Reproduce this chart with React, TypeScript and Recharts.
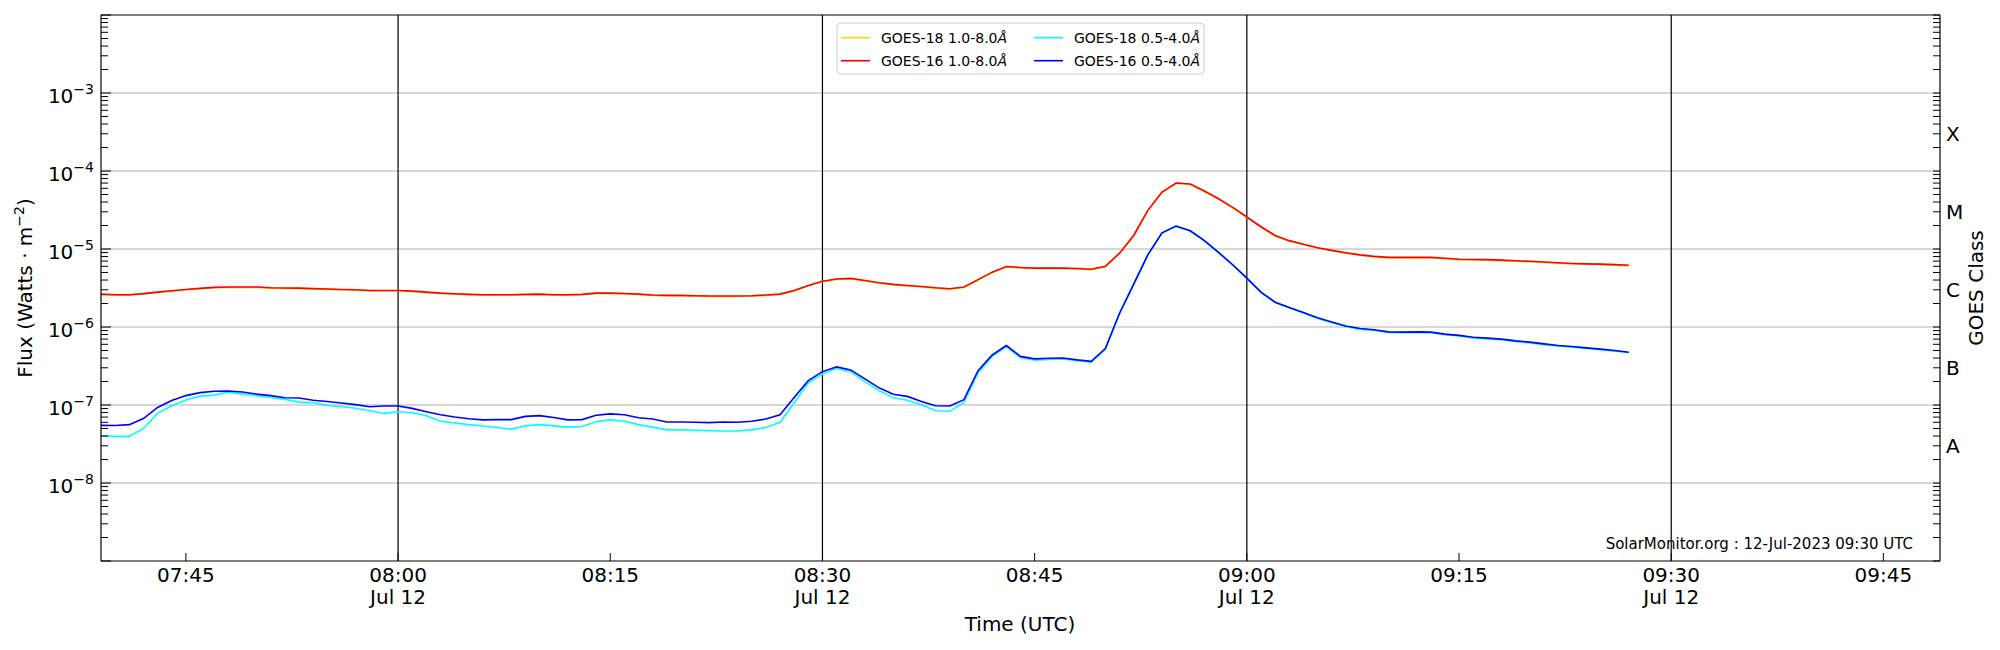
// GOES X-ray flux, 12 Jul 2023 07:39-09:27 UTC (SolarMonitor style)
import React from 'react';
import { LineChart, Line, XAxis, YAxis, ReferenceLine } from 'recharts';

// one sample per minute, first sample at 07:39
const START_MIN = 7 * 60 + 39;

const g18Long = [
  2.6e-6, 2.56e-6, 2.56e-6, 2.65e-6, 2.77e-6, 2.88e-6, 3.0e-6, 3.1e-6, 3.19e-6, 3.22e-6,
  3.22e-6, 3.22e-6, 3.15e-6, 3.13e-6, 3.12e-6, 3.07e-6, 3.04e-6, 3.0e-6, 2.97e-6, 2.91e-6,
  2.91e-6, 2.91e-6, 2.85e-6, 2.77e-6, 2.69e-6, 2.64e-6, 2.59e-6, 2.56e-6, 2.56e-6, 2.56e-6,
  2.59e-6, 2.61e-6, 2.56e-6, 2.56e-6, 2.59e-6, 2.69e-6, 2.69e-6, 2.66e-6, 2.61e-6, 2.54e-6,
  2.51e-6, 2.51e-6, 2.49e-6, 2.47e-6, 2.47e-6, 2.47e-6, 2.49e-6, 2.54e-6, 2.61e-6, 2.9e-6,
  3.37e-6, 3.8e-6, 4.07e-6, 4.15e-6, 3.9e-6, 3.66e-6, 3.48e-6, 3.37e-6, 3.26e-6, 3.14e-6,
  3.06e-6, 3.21e-6, 4.0e-6, 4.99e-6, 5.9e-6, 5.73e-6, 5.62e-6, 5.62e-6, 5.62e-6, 5.55e-6,
  5.44e-6, 5.93e-6, 8.75e-6, 1.47e-5, 3.1e-5, 5.3e-5, 6.95e-5, 6.72e-5, 5.47e-5, 4.36e-5,
  3.38e-5, 2.54e-5, 1.91e-5, 1.47e-5, 1.27e-5, 1.14e-5, 1.03e-5, 9.5e-6, 8.86e-6, 8.3e-6,
  7.95e-6, 7.7e-6, 7.7e-6, 7.75e-6, 7.7e-6, 7.5e-6, 7.3e-6, 7.26e-6, 7.2e-6, 7.1e-6,
  6.98e-6, 6.87e-6, 6.72e-6, 6.57e-6, 6.45e-6, 6.37e-6, 6.32e-6, 6.22e-6, 6.13e-6,
];

const g16Long = [
  2.64e-6, 2.59e-6, 2.59e-6, 2.68e-6, 2.8e-6, 2.91e-6, 3.03e-6, 3.13e-6, 3.22e-6, 3.25e-6,
  3.25e-6, 3.25e-6, 3.18e-6, 3.16e-6, 3.15e-6, 3.1e-6, 3.07e-6, 3.03e-6, 3.0e-6, 2.94e-6,
  2.94e-6, 2.94e-6, 2.88e-6, 2.8e-6, 2.72e-6, 2.67e-6, 2.62e-6, 2.59e-6, 2.59e-6, 2.59e-6,
  2.62e-6, 2.64e-6, 2.59e-6, 2.59e-6, 2.62e-6, 2.72e-6, 2.72e-6, 2.69e-6, 2.64e-6, 2.57e-6,
  2.54e-6, 2.54e-6, 2.52e-6, 2.5e-6, 2.5e-6, 2.5e-6, 2.52e-6, 2.57e-6, 2.64e-6, 2.94e-6,
  3.41e-6, 3.85e-6, 4.12e-6, 4.2e-6, 3.95e-6, 3.7e-6, 3.52e-6, 3.41e-6, 3.3e-6, 3.18e-6,
  3.1e-6, 3.25e-6, 4.05e-6, 5.05e-6, 5.97e-6, 5.8e-6, 5.69e-6, 5.69e-6, 5.69e-6, 5.62e-6,
  5.5e-6, 6.0e-6, 8.85e-6, 1.49e-5, 3.13e-5, 5.37e-5, 7.02e-5, 6.8e-5, 5.53e-5, 4.41e-5,
  3.42e-5, 2.57e-5, 1.93e-5, 1.49e-5, 1.28e-5, 1.15e-5, 1.04e-5, 9.6e-6, 8.96e-6, 8.4e-6,
  8.04e-6, 7.8e-6, 7.8e-6, 7.85e-6, 7.8e-6, 7.6e-6, 7.4e-6, 7.35e-6, 7.3e-6, 7.2e-6,
  7.06e-6, 6.95e-6, 6.8e-6, 6.65e-6, 6.53e-6, 6.45e-6, 6.4e-6, 6.3e-6, 6.2e-6,
];

const g18Short = [
  4.04e-8, 3.96e-8, 3.96e-8, 5.0e-8, 7.8e-8, 9.8e-8, 1.16e-7, 1.3e-7, 1.34e-7, 1.46e-7,
  1.38e-7, 1.32e-7, 1.25e-7, 1.18e-7, 1.09e-7, 1.07e-7, 9.9e-8, 9.5e-8, 9.1e-8, 8.45e-8,
  7.8e-8, 8.2e-8, 7.95e-8, 7.3e-8, 6.2e-8, 5.9e-8, 5.6e-8, 5.37e-8, 5.15e-8, 4.9e-8,
  5.4e-8, 5.6e-8, 5.4e-8, 5.2e-8, 5.3e-8, 6.1e-8, 6.45e-8, 6.2e-8, 5.6e-8, 5.2e-8,
  4.8e-8, 4.8e-8, 4.75e-8, 4.7e-8, 4.65e-8, 4.65e-8, 4.8e-8, 5.15e-8, 6.0e-8, 1.07e-7,
  1.92e-7, 2.5e-7, 2.93e-7, 2.68e-7, 1.99e-7, 1.53e-7, 1.24e-7, 1.15e-7, 1.01e-7, 8.45e-8,
  8.3e-8, 1.08e-7, 2.6e-7, 4.2e-7, 5.6e-7, 4.05e-7, 3.75e-7, 3.85e-7, 3.9e-7, 3.7e-7,
  3.55e-7, 5.2e-7, 1.48e-6, 3.5e-6, 8.4e-6, 1.6e-5, 1.95e-5, 1.7e-5, 1.27e-5, 9.0e-6,
  6.25e-6, 4.2e-6, 2.78e-6, 2.06e-6, 1.76e-6, 1.51e-6, 1.29e-6, 1.14e-6, 1.01e-6, 9.4e-7,
  9.05e-7, 8.5e-7, 8.45e-7, 8.5e-7, 8.45e-7, 7.95e-7, 7.65e-7, 7.25e-7, 7.05e-7, 6.85e-7,
  6.5e-7, 6.25e-7, 5.95e-7, 5.7e-7, 5.5e-7, 5.3e-7, 5.1e-7, 4.9e-7, 4.7e-7,
];

const g16Short = [
  5.48e-8, 5.45e-8, 5.6e-8, 6.7e-8, 9.3e-8, 1.14e-7, 1.32e-7, 1.44e-7, 1.5e-7, 1.51e-7,
  1.47e-7, 1.38e-7, 1.32e-7, 1.24e-7, 1.23e-7, 1.15e-7, 1.11e-7, 1.06e-7, 1.01e-7, 9.5e-8,
  9.7e-8, 9.7e-8, 9.05e-8, 8.2e-8, 7.5e-8, 7.0e-8, 6.67e-8, 6.45e-8, 6.5e-8, 6.5e-8,
  7.15e-8, 7.3e-8, 6.9e-8, 6.45e-8, 6.5e-8, 7.4e-8, 7.7e-8, 7.5e-8, 6.85e-8, 6.6e-8,
  6.05e-8, 6.05e-8, 6.0e-8, 5.95e-8, 6.05e-8, 6.0e-8, 6.2e-8, 6.6e-8, 7.5e-8, 1.25e-7,
  2.05e-7, 2.68e-7, 3.08e-7, 2.82e-7, 2.16e-7, 1.66e-7, 1.37e-7, 1.29e-7, 1.11e-7, 9.8e-8,
  9.7e-8, 1.17e-7, 2.75e-7, 4.38e-7, 5.78e-7, 4.2e-7, 3.9e-7, 3.97e-7, 4.0e-7, 3.79e-7,
  3.63e-7, 5.3e-7, 1.5e-6, 3.55e-6, 8.43e-6, 1.61e-5, 1.97e-5, 1.71e-5, 1.28e-5, 9.04e-6,
  6.28e-6, 4.23e-6, 2.8e-6, 2.08e-6, 1.78e-6, 1.53e-6, 1.31e-6, 1.16e-6, 1.03e-6, 9.55e-7,
  9.2e-7, 8.65e-7, 8.6e-7, 8.65e-7, 8.6e-7, 8.1e-7, 7.8e-7, 7.4e-7, 7.2e-7, 7.0e-7,
  6.64e-7, 6.4e-7, 6.07e-7, 5.8e-7, 5.62e-7, 5.4e-7, 5.2e-7, 4.99e-7, 4.75e-7,
];

const timeTicks = [465, 480, 495, 510, 525, 540, 555, 570, 585];
const halfHours = [480, 510, 540, 570];
const decades = [1e-8, 1e-7, 1e-6, 1e-5, 1e-4, 1e-3];
const goesClasses = ['A', 'B', 'C', 'M', 'X'];
const classLevels = [3e-8, 3e-7, 3e-6, 3e-5, 3e-4];

const series = [
  { key: 'g18l', label: 'GOES-18 1.0-8.0', color: '#ffd700' },
  { key: 'g16l', label: 'GOES-16 1.0-8.0', color: '#ff0000' },
  { key: 'g18s', label: 'GOES-18 0.5-4.0', color: '#00ffff' },
  { key: 'g16s', label: 'GOES-16 0.5-4.0', color: '#0000ff' },
];

const data = g16Long.map((v, i) => ({
  t: START_MIN + i,
  g18l: g18Long[i],
  g16l: v,
  g18s: g18Short[i],
  g16s: g16Short[i],
}));

// log ticks k * 10^n
const logTicks: number[] = [];
for (let n = -9; n <= -3; n++) {
  for (let k = 1; k <= 9; k++) logTicks.push(k * Math.pow(10, n));
}
logTicks.push(1e-2);

const PL = 101;
const PR = 1940;
const PT = 15;
const PB = 561;
const FONT = 'DejaVu Sans';

const isDecade = (v: number) => Math.abs(Math.log10(v) - Math.round(Math.log10(v))) < 1e-6;

const FluxTick = ({ y, payload }: any) => {
  const v = payload.value;
  const e = Math.round(Math.log10(v));
  const major = isDecade(v);
  return (
    <g>
      <line x1={PL} x2={PL + (major ? 10 : 7)} y1={y} y2={y} stroke="#000" strokeWidth={1} />
      {major && e >= -8 && e <= -3 && (
        <text x={94} y={y + 10} textAnchor="end" fontSize={20} fontFamily={FONT} fill="#000">
          10
          <tspan fontSize={14} dy={-9.3}>−{Math.abs(e)}</tspan>
        </text>
      )}
    </g>
  );
};

const ClassTick = ({ y, payload }: any) => {
  const v = payload.value;
  const idx = classLevels.findIndex((c) => Math.abs(c - v) / c < 1e-6);
  return (
    <g>
      <line x1={PR - 7} x2={PR} y1={y} y2={y} stroke="#000" strokeWidth={1} />
      {idx >= 0 && (
        <text x={1946} y={y + 7.5} fontSize={20} fontFamily={FONT} fill="#000">
          {goesClasses[idx]}
        </text>
      )}
    </g>
  );
};

const TimeTick = ({ x, payload }: any) => {
  const m = payload.value;
  const hh = String(Math.floor(m / 60)).padStart(2, '0');
  const mm = String(m % 60).padStart(2, '0');
  return (
    <g>
      <line x1={x} x2={x} y1={PB} y2={PB - 8} stroke="#000" strokeWidth={1} />
      <text x={x} y={582} textAnchor="middle" fontSize={20} fontFamily={FONT} fill="#000">
        {hh}:{mm}
      </text>
      {m % 30 === 0 && (
        <text x={x} y={604} textAnchor="middle" fontSize={20} fontFamily={FONT} fill="#000">
          Jul 12
        </text>
      )}
    </g>
  );
};

export default function App() {
  const rightTicks = [...logTicks.filter((v) => !classLevels.some((c) => Math.abs(c - v) / c < 1e-6)), ...classLevels].sort((a, b) => a - b);

  return (
    <div style={{ position: 'absolute', left: 0, top: 0, width: 2000, height: 650, background: '#fff', fontFamily: FONT }}>
      <LineChart width={2000} height={650} data={data} margin={{ top: PT, right: 0, bottom: 0, left: 0 }}>
        <XAxis
          dataKey="t"
          type="number"
          domain={[459, 589]}
          ticks={timeTicks}
          interval={0}
          height={89}
          tickLine={false}
          tick={<TimeTick />}
          axisLine={{ stroke: '#000', strokeWidth: 1.2 }}
          allowDataOverflow
        />
        <YAxis
          yAxisId="left"
          scale="log"
          type="number"
          domain={[1e-9, 1e-2]}
          ticks={logTicks}
          interval={0}
          width={101}
          tickLine={false}
          tick={<FluxTick />}
          axisLine={{ stroke: '#000', strokeWidth: 1.2 }}
          allowDataOverflow
        />
        <YAxis
          yAxisId="right"
          orientation="right"
          scale="log"
          type="number"
          domain={[1e-9, 1e-2]}
          ticks={rightTicks}
          interval={0}
          width={60}
          tickLine={false}
          tick={<ClassTick />}
          axisLine={{ stroke: '#000', strokeWidth: 1.2 }}
          allowDataOverflow
        />
        {decades.map((d) => (
          <ReferenceLine key={d} y={d} yAxisId="left" stroke="#b0b0b0" strokeWidth={1} />
        ))}
        <ReferenceLine y={1e-2} yAxisId="left" stroke="#000" strokeWidth={1.2} />
        {halfHours.map((h) => (
          <ReferenceLine key={h} x={h} yAxisId="left" stroke="#000" strokeWidth={1.2} />
        ))}
        {series.map((s) => (
          <Line
            key={s.key}
            yAxisId="left"
            type="linear"
            dataKey={s.key}
            stroke={s.color}
            strokeWidth={1.6}
            dot={false}
            activeDot={false}
            isAnimationActive={false}
          />
        ))}
      </LineChart>

      <svg width={2000} height={650} style={{ position: 'absolute', left: 0, top: 0, pointerEvents: 'none' }} fontFamily={FONT}>
        {/* legend */}
        <rect x={837} y={23} width={367} height={51} rx={4} fill="#fff" fillOpacity={0.8} stroke="#cccccc" strokeWidth={1} />
        {series.map((s, i) => {
          const col = Math.floor(i / 2);
          const row = i % 2;
          const lx = col === 0 ? 841 : 1034;
          const tx = col === 0 ? 881 : 1074;
          const ly = row === 0 ? 37.7 : 60.7;
          return (
            <g key={s.key}>
              <line x1={lx} x2={lx + 29} y1={ly} y2={ly} stroke={s.color} strokeWidth={1.6} />
              <text x={tx} y={ly + 5} fontSize={14} fill="#000">
                {s.label}
                <tspan fontStyle="italic">Å</tspan>
              </text>
            </g>
          );
        })}

        <text x={1913} y={548.5} textAnchor="end" fontSize={15} fill="#000">
          SolarMonitor.org : 12-Jul-2023 09:30 UTC
        </text>

        <text x={1020} y={631} textAnchor="middle" fontSize={20} fill="#000">
          Time (UTC)
        </text>

        <text transform="translate(32,288) rotate(-90)" textAnchor="middle" fontSize={20} fill="#000">
          Flux (Watts · m
          <tspan fontSize={14} dy={-8}>−2</tspan>
          <tspan dy={8}>)</tspan>
        </text>

        <text transform="translate(1983,288) rotate(-90)" textAnchor="middle" fontSize={20} fill="#000">
          GOES Class
        </text>
      </svg>
    </div>
  );
}
